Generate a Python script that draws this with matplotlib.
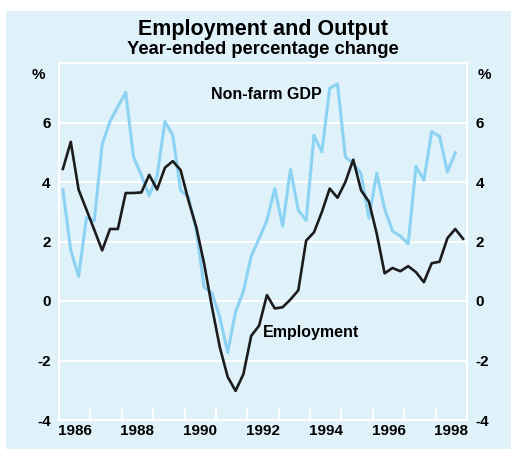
import matplotlib.pyplot as plt
from matplotlib.patches import Rectangle

plt.rcParams['font.family'] = ['Liberation Sans', 'DejaVu Sans']
plt.rcParams['font.weight'] = 'bold'

# quarterly data, first quarter 1986 to last quarter 1998
start_year = 1986.125
employment = [4.44, 5.35, 3.74, 3.07, 2.39, 1.70, 2.42, 2.42, 3.63, 3.63,
              3.65, 4.24, 3.75, 4.48, 4.70, 4.40, 3.38, 2.48, 1.25, -0.21,
              -1.56, -2.55, -3.02, -2.46, -1.17, -0.83, 0.20, -0.25, -0.21, 0.05,
              0.36, 2.03, 2.31, 2.99, 3.78, 3.47, 4.00, 4.75, 3.72, 3.34,
              2.26, 0.93, 1.11, 1.00, 1.17, 0.97, 0.63, 1.27, 1.32, 2.11,
              2.42, 2.09]
gdp = [3.74, 1.70, 0.83, 2.80, 2.70, 5.26, 6.04, 6.53, 7.01, 4.84,
       4.22, 3.55, 4.20, 6.03, 5.57, 3.72, 3.49, 2.37, 0.46, 0.27,
       -0.55, -1.73, -0.37, 0.33, 1.51, 2.09, 2.71, 3.78, 2.52, 4.42,
       3.05, 2.71, 5.57, 5.01, 7.15, 7.29, 4.84, 4.62, 4.28, 2.78,
       4.30, 3.10, 2.35, 2.18, 1.92, 4.53, 4.06, 5.69, 5.54, 4.34,
       4.98]
year_labels = ['1986', '1988', '1990', '1992', '1994', '1996', '1998']
y_ticks = [-4, -2, 0, 2, 4, 6]

bg = '#dff1f9'
blue = '#8cd3f3'
black = '#1c1c1c'

W, H = 513, 449
fig = plt.figure(figsize=(W / 100, H / 100), dpi=100)
fig.patch.set_facecolor('white')
fig.patches.append(Rectangle((6 / W, 0), 505 / W, 1 - 11 / H,
                             transform=fig.transFigure, facecolor=bg,
                             edgecolor='none', zorder=-10))

ax = fig.add_axes([59 / W, (H - 420) / H, 408 / W, 357 / H])
ax.set_facecolor(bg)

x_emp = [start_year + 0.25 * i for i in range(len(employment))]
x_gdp = [start_year + 0.25 * i for i in range(len(gdp))]

for v in y_ticks[1:]:
    ax.axhline(v, color='white', lw=1.4, zorder=1)

ax.plot(x_gdp, gdp, color=blue, lw=2.2, zorder=2)
ax.plot(x_emp, employment, color=black, lw=1.9, zorder=3)

ax.set_xlim(1986, 1999)
ax.set_ylim(-4, 8)

for s in ax.spines.values():
    s.set_color('white')
    s.set_linewidth(1.5)

# year boundary ticks, labels centred in the middle of the year
ax.set_xticks(range(1987, 1999))
ax.set_xticklabels([])
ax.tick_params(axis='x', which='major', direction='in', length=9,
               width=1.4, color='white')
ax.set_xticks([int(y) + 0.5 for y in year_labels], minor=True)
ax.set_xticklabels(year_labels, minor=True)
ax.tick_params(axis='x', which='minor', length=0, pad=3, labelsize=11)

ax.set_yticks(y_ticks)
ax.set_yticklabels([str(v) for v in y_ticks])
ax.tick_params(axis='y', length=0, labelsize=11, labelright=True, pad=6)

ax.text(-0.035, 0.965, '%', transform=ax.transAxes, ha='right', va='center',
        fontsize=11)
ax.text(1.025, 0.965, '%', transform=ax.transAxes, ha='left', va='center',
        fontsize=11)

ax.text(1992.62, 6.95, 'Non-farm GDP', ha='center', va='center', fontsize=11.5)
ax.text(1992.5, -1.07, 'Employment', ha='left', va='center', fontsize=11.5)

fig.text(263 / W, 1 - 30 / H, 'Employment and Output', ha='center',
         va='center', fontsize=15.5)
fig.text(263 / W, 1 - 49 / H, 'Year-ended percentage change', ha='center',
         va='center', fontsize=13.2)

fig.savefig('out.png', dpi=100)
